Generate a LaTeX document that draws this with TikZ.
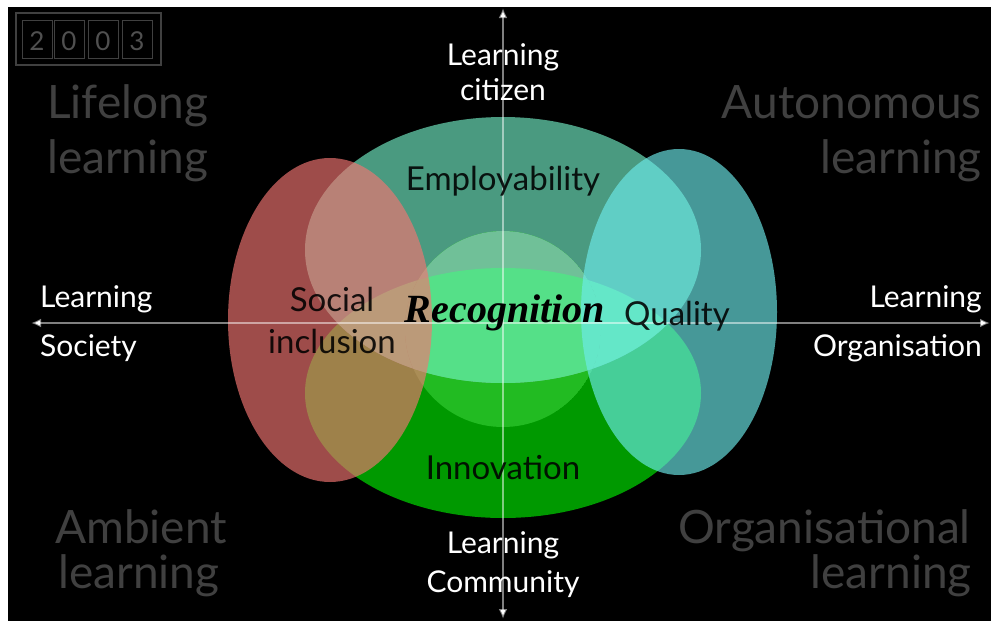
\documentclass[tikz,border=0pt]{standalone}
\usepackage{fontspec}
\setmainfont{Lato}
\newfontfamily\recfont{Liberation Serif}
\usetikzlibrary{arrows.meta}
\definecolor{cEmp}{RGB}{74,154,128}
\definecolor{cInn}{RGB}{0,153,0}
\definecolor{cBand}{RGB}{85,224,136}
\definecolor{cCircTop}{RGB}{112,192,152}
\definecolor{cCircBot}{RGB}{34,187,34}
\definecolor{cRed}{RGB}{243,117,114}
\definecolor{cBlue}{RGB}{109,235,235}
\definecolor{cCorner}{RGB}{64,64,64}
\definecolor{cDigit}{RGB}{80,80,80}
\tikzset{
  corner/.style={text=cCorner, font=\fontsize{46}{50}\selectfont, inner sep=0pt},
  axlabel/.style={text=white, font=\fontsize{30}{34}\selectfont, inner sep=0pt},
  inlabel/.style={text=black, font=\fontsize{33}{36}\selectfont, inner sep=0pt, opacity=0.88},
  digitbox/.style={draw=cCorner, line width=1.2pt},
  digit/.style={text=cDigit, font=\fontsize{26}{28}\selectfont, inner sep=0pt},
  axis/.style={draw=white, draw opacity=0.5, line width=2pt, -{Latex[length=10pt,width=9pt]}},
  recog/.style={font=\fontsize{40}{44}\recfont\bfseries\itshape, inner sep=0pt},
}
\begin{document}
\begin{tikzpicture}[x=1pt,y=-1pt]
\useasboundingbox (0,0) rectangle (991,621);
\fill[white] (0,0) rectangle (991,621);
\fill[black] (8,7) rectangle (991,621);
% Innovation and Employability ellipses
\fill[cInn] (503,393) ellipse [x radius=198, y radius=125];
\fill[cEmp] (503,250) ellipse [x radius=198, y radius=133];
\begin{scope}
  \clip (503,250) ellipse [x radius=198, y radius=133];
  \fill[cBand] (503,393) ellipse [x radius=198, y radius=125];
\end{scope}
% central circle
\begin{scope}
  \clip (503,329) circle [radius=98];
  \fill[cCircBot] (503,329) circle [radius=98];
  \clip (503,250) ellipse [x radius=198, y radius=133];
  \fill[cCircTop] (503,329) circle [radius=98];
  \clip (503,393) ellipse [x radius=198, y radius=125];
  \fill[cBand] (503,329) circle [radius=98];
\end{scope}
% side ellipses
\fill[cRed, fill opacity=0.65] (330,320) ellipse [x radius=102, y radius=162];
\fill[cBlue, fill opacity=0.65] (679,312) ellipse [x radius=98, y radius=163];
% axes
\coordinate (axL) at (31,323);
\coordinate (axR) at (990,323);
\coordinate (axT) at (503,8);
\coordinate (axB) at (503,619);
\coordinate (ax0) at (503,323);
\draw[axis] (ax0) -- (axL);
\draw[axis] (ax0) -- (axR);
\draw[axis] (ax0) -- (axT);
\draw[axis] (ax0) -- (axB);
% 2003 box
\draw[draw=cCorner, line width=2pt] (16,13) rectangle (161,65);
\node[digitbox, minimum width=30, minimum height=38, anchor=north west] (b1) at (22,20) {};
\node[digitbox, minimum width=30, minimum height=38, anchor=north west] (b2) at (54,20) {};
\node[digitbox, minimum width=30, minimum height=38, anchor=north west] (b3) at (88,20) {};
\node[digitbox, minimum width=30, minimum height=38, anchor=north west] (b4) at (122,20) {};
\node[digit, anchor=base] (d1) at (37,50) {2};
\node[digit, anchor=base] (d2) at (69,50) {0};
\node[digit, anchor=base] (d3) at (103,50) {0};
\node[digit, anchor=base] (d4) at (137,50) {3};
% corner labels
\node[corner, anchor=base west] (ll1) at (47,118) {Lifelong};
\node[corner, anchor=base west] (ll2) at (47,173) {learning};
\node[corner, anchor=base east] (al1) at (982,118) {Autonomous};
\node[corner, anchor=base east] (al2) at (982,173) {learning};
\node[corner, anchor=base] (am1) at (141,543) {Ambient};
\node[corner, anchor=base] (am2) at (139,588) {learning};
\node[corner, anchor=base east] (ol1) at (971,543) {Organisational};
\node[corner, anchor=base east] (ol2) at (972,588) {learning};
% axis labels
\node[axlabel, anchor=base] (lc1) at (503,65) {Learning};
\node[axlabel, anchor=base] (lc2) at (503,100) {citizen};
\node[axlabel, anchor=base] (lm1) at (503,553) {Learning};
\node[axlabel, anchor=base] (lm2) at (503,592) {Community};
\node[axlabel, anchor=base west] (ls1) at (40,307) {Learning};
\node[axlabel, anchor=base west] (ls2) at (40,356) {Society};
\node[axlabel, anchor=base east] (lo1) at (982,307) {Learning};
\node[axlabel, anchor=base east] (lo2) at (982,356) {Organisation};
% inner labels
\node[inlabel, anchor=base] (emp) at (503,190) {Employability};
\node[inlabel, anchor=base] (inn) at (503,479) {Innovation};
\node[inlabel, anchor=base] (soc1) at (332,311) {Social};
\node[inlabel, anchor=base] (soc2) at (332,353) {inclusion};
\node[inlabel, anchor=base west] (qual) at (624,325) {Quality};
\node[recog, text=black, anchor=base] (rec) at (505,322) {Recognition};
\end{tikzpicture}
\end{document}
